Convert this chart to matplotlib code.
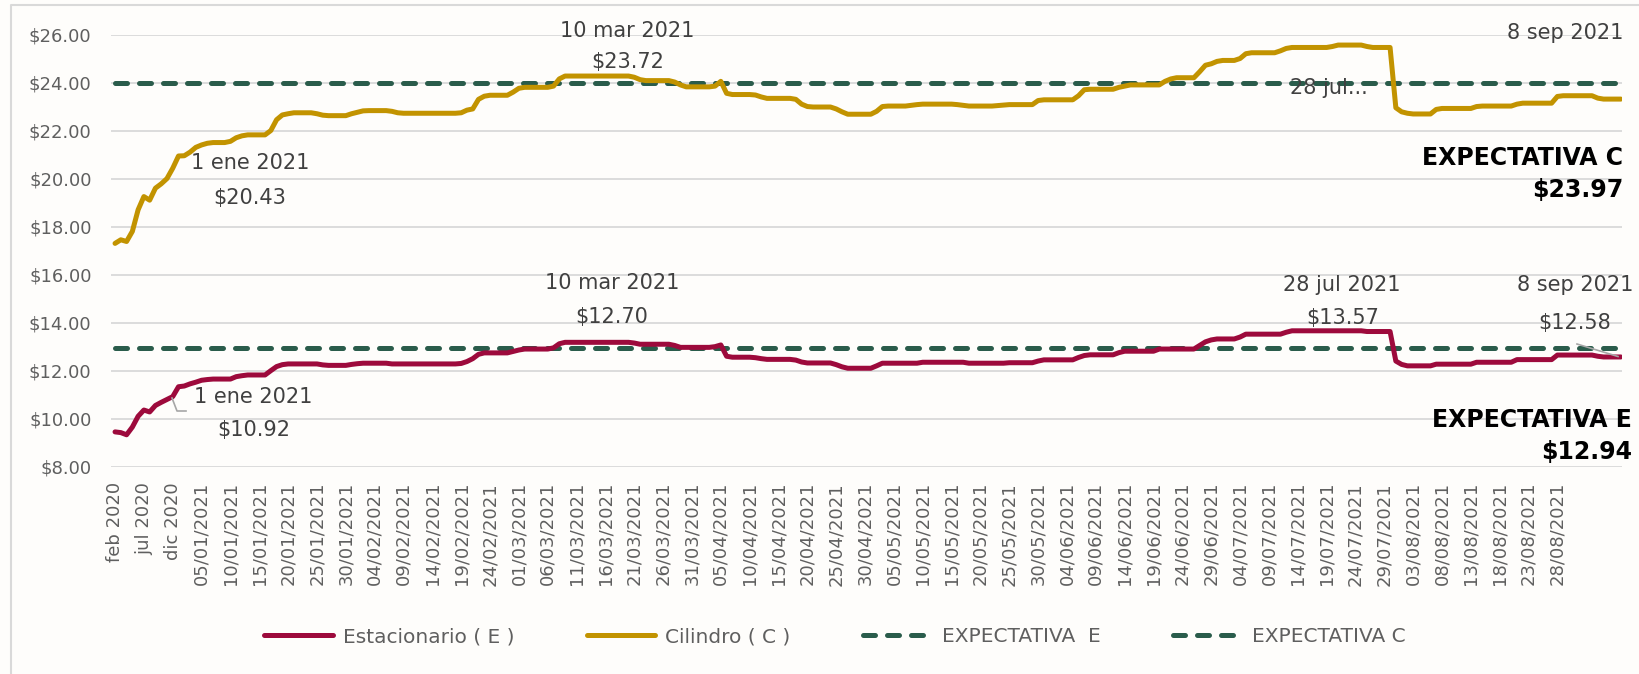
import matplotlib.pyplot as plt
import pandas as pd
from matplotlib.lines import Line2D

# categorias: meses de 2020 y luego dias de 2021
meses = ['feb 2020', 'mar 2020', 'abr 2020', 'may 2020', 'jun 2020', 'jul 2020',
         'ago 2020', 'sep 2020', 'oct 2020', 'nov 2020', 'dic 2020']
dias = pd.date_range('2021-01-01', '2021-09-08', freq='D').strftime('%d/%m/%Y').tolist()
categorias = meses + dias

cilindro = [
    17.30, 17.45, 17.38, 17.80, 18.70, 19.25, 19.10, 19.60, 19.78, 20.00, 20.43,
    20.94, 20.95, 21.10, 21.30, 21.40, 21.47, 21.50, 21.50, 21.50, 21.55,
    21.70, 21.78, 21.82, 21.82, 21.82, 21.82, 22.00, 22.45, 22.65, 22.70,
    22.74, 22.74, 22.74, 22.74, 22.70, 22.64, 22.62, 22.62, 22.62, 22.62,
    22.70, 22.76, 22.82, 22.83, 22.83, 22.83, 22.83, 22.80, 22.74, 22.72,
    22.72, 22.72, 22.72, 22.72, 22.72, 22.72, 22.72, 22.72, 22.72, 22.74,
    22.85, 22.90, 23.30, 23.43, 23.47, 23.47, 23.47, 23.47, 23.60, 23.76,
    23.80, 23.80, 23.80, 23.80, 23.80, 23.85, 24.15, 24.27, 24.27, 24.27,
    24.27, 24.27, 24.27, 24.27, 24.27, 24.27, 24.27, 24.27, 24.27, 24.22,
    24.12, 24.08, 24.08, 24.08, 24.08, 24.08, 24.02, 23.90, 23.82, 23.82,
    23.82, 23.82, 23.82, 23.85, 24.05, 23.55, 23.50, 23.50, 23.50, 23.50,
    23.48, 23.40, 23.34, 23.34, 23.34, 23.34, 23.34, 23.30, 23.10, 23.00,
    22.98, 22.98, 22.98, 22.98, 22.90, 22.78, 22.68, 22.68, 22.68, 22.68,
    22.68, 22.80, 23.00, 23.02, 23.02, 23.02, 23.02, 23.05, 23.08, 23.10,
    23.10, 23.10, 23.10, 23.10, 23.10, 23.08, 23.05, 23.02, 23.02, 23.02,
    23.02, 23.02, 23.04, 23.06, 23.08, 23.08, 23.08, 23.08, 23.08, 23.25,
    23.28, 23.28, 23.28, 23.28, 23.28, 23.28, 23.45, 23.70, 23.72, 23.72,
    23.72, 23.72, 23.72, 23.80, 23.85, 23.90, 23.90, 23.90, 23.90, 23.90,
    23.90, 24.05, 24.15, 24.20, 24.20, 24.20, 24.20, 24.45, 24.72, 24.78,
    24.88, 24.92, 24.92, 24.92, 25.00, 25.20, 25.24, 25.24, 25.24, 25.24,
    25.24, 25.32, 25.42, 25.46, 25.46, 25.46, 25.46, 25.46, 25.46, 25.46,
    25.50, 25.56, 25.56, 25.56, 25.56, 25.56, 25.50, 25.46, 25.46, 25.46,
    25.46, 22.95, 22.78, 22.72, 22.69, 22.69, 22.69, 22.69, 22.88, 22.92,
    22.92, 22.92, 22.92, 22.92, 22.92, 23.00, 23.02, 23.02, 23.02, 23.02,
    23.02, 23.02, 23.10, 23.14, 23.14, 23.14, 23.14, 23.14, 23.14, 23.42,
    23.45, 23.45, 23.45, 23.45, 23.45, 23.45, 23.35, 23.31, 23.31, 23.31, 23.31,
]

estacionario = [
    9.45, 9.42, 9.33, 9.65, 10.10, 10.36, 10.28, 10.55, 10.68, 10.80, 10.92,
    11.33, 11.36, 11.45, 11.52, 11.60, 11.63, 11.65, 11.65, 11.65, 11.65,
    11.75, 11.79, 11.82, 11.82, 11.82, 11.82, 12.00, 12.17, 12.25, 12.28,
    12.28, 12.28, 12.28, 12.28, 12.28, 12.24, 12.22, 12.22, 12.22, 12.22,
    12.26, 12.29, 12.31, 12.31, 12.31, 12.31, 12.31, 12.28, 12.28, 12.28,
    12.28, 12.28, 12.28, 12.28, 12.28, 12.28, 12.28, 12.28, 12.28, 12.30,
    12.38, 12.50, 12.68, 12.74, 12.74, 12.74, 12.74, 12.74, 12.80, 12.86,
    12.90, 12.90, 12.90, 12.90, 12.90, 12.95, 13.12, 13.18, 13.18, 13.18,
    13.18, 13.18, 13.18, 13.18, 13.18, 13.18, 13.18, 13.18, 13.18, 13.15,
    13.10, 13.10, 13.10, 13.10, 13.10, 13.10, 13.05, 12.97, 12.97, 12.97,
    12.97, 12.97, 12.97, 13.00, 13.07, 12.60, 12.56, 12.56, 12.56, 12.56,
    12.54, 12.50, 12.47, 12.47, 12.47, 12.47, 12.47, 12.44, 12.36, 12.32,
    12.32, 12.32, 12.32, 12.32, 12.25, 12.16, 12.10, 12.10, 12.10, 12.10,
    12.10, 12.20, 12.31, 12.31, 12.31, 12.31, 12.31, 12.31, 12.31, 12.35,
    12.35, 12.35, 12.35, 12.35, 12.35, 12.35, 12.35, 12.31, 12.31, 12.31,
    12.31, 12.31, 12.31, 12.31, 12.33, 12.33, 12.33, 12.33, 12.33, 12.40,
    12.45, 12.45, 12.45, 12.45, 12.45, 12.45, 12.55, 12.63, 12.66, 12.66,
    12.66, 12.66, 12.66, 12.75, 12.81, 12.81, 12.81, 12.81, 12.81, 12.81,
    12.90, 12.90, 12.90, 12.90, 12.90, 12.90, 12.90, 13.05, 13.20, 13.28,
    13.32, 13.32, 13.32, 13.32, 13.40, 13.52, 13.52, 13.52, 13.52, 13.52,
    13.52, 13.52, 13.60, 13.66, 13.66, 13.66, 13.66, 13.66, 13.66, 13.66,
    13.66, 13.66, 13.66, 13.66, 13.66, 13.66, 13.63, 13.63, 13.63, 13.63,
    13.63, 12.40, 12.26, 12.20, 12.20, 12.20, 12.20, 12.20, 12.27, 12.27,
    12.27, 12.27, 12.27, 12.27, 12.27, 12.35, 12.35, 12.35, 12.35, 12.35,
    12.35, 12.35, 12.46, 12.46, 12.46, 12.46, 12.46, 12.46, 12.46, 12.65,
    12.65, 12.65, 12.65, 12.65, 12.65, 12.65, 12.60, 12.57, 12.57, 12.57, 12.57,
]

expectativa_e = 12.94
expectativa_c = 23.97

assert len(cilindro) == len(categorias) == len(estacionario)

ROJO = '#9D0A3C'
ORO = '#C29300'
VERDE = '#2A5C4B'
GRIS = '#5F5F5F'
TXT = '#404040'

plt.rcParams['font.family'] = ['DejaVu Sans']

fig = plt.figure(figsize=(16.4, 6.74), dpi=100, facecolor='#FEFDFB')
W, H = 1640, 674
ax = fig.add_axes([111 / W, 1 - 466.7 / H, 1511 / W, 432.2 / H])
ax.set_facecolor('none')

x = list(range(len(categorias)))

l_e, = ax.plot(x, estacionario, color=ROJO, lw=3.6, solid_capstyle='round',
               solid_joinstyle='round', label='Estacionario ( E )', zorder=4)
l_c, = ax.plot(x, cilindro, color=ORO, lw=3.6, solid_capstyle='round',
               solid_joinstyle='round', label='Cilindro ( C )', zorder=4)
l_xe, = ax.plot(x, [expectativa_e] * len(x), color=VERDE, lw=3.6,
                dashes=(2.4, 2.4), dash_capstyle='round', label='EXPECTATIVA  E', zorder=3)
l_xc, = ax.plot(x, [expectativa_c] * len(x), color=VERDE, lw=3.6,
                dashes=(2.4, 2.4), dash_capstyle='round', label='EXPECTATIVA C', zorder=3)

ax.set_xlim(-0.7, 261.2)
ax.set_ylim(8, 26)
ax.set_yticks(range(8, 27, 2))
ax.set_yticklabels([f'${v:.2f}' for v in range(8, 27, 2)])
ax.grid(axis='y', color='#D9D9D9', lw=1.3, zorder=0)
ax.set_axisbelow(True)
for s in ax.spines.values():
    s.set_visible(False)

ticks = list(range(0, 251, 5))
ax.set_xticks(ticks)
ax.set_xticklabels([categorias[i] for i in ticks], rotation=90)
ax.tick_params(axis='x', length=0, pad=11, labelsize=13, labelcolor=GRIS)
ax.tick_params(axis='y', length=0, pad=14, labelsize=13, labelcolor=GRIS)

# etiquetas de datos
def etiqueta(xd, yd, txt, ha='center', **kw):
    ax.text(xd, yd, txt, ha=ha, va='center', fontsize=15, color=TXT, zorder=6, **kw)

# Cilindro
etiqueta(23.4, 20.65, '1 ene 2021')
etiqueta(23.4, 19.19, '$20.43')
etiqueta(88.8, 26.16, '10 mar 2021')
etiqueta(88.8, 24.87, '$23.72')
etiqueta(210.4, 23.77, '28 jul...')
etiqueta(261.5, 26.06, '8 sep 2021', ha='right')
# Estacionario
etiqueta(24.0, 10.90, '1 ene 2021')
etiqueta(24.0, 9.53, '$10.92')
etiqueta(86.1, 15.65, '10 mar 2021')
etiqueta(86.1, 14.25, '$12.70')
etiqueta(212.7, 15.57, '28 jul 2021')
etiqueta(212.8, 14.18, '$13.57')
etiqueta(263.2, 15.57, '8 sep 2021', ha='right')
etiqueta(253.0, 13.97, '$12.58')

# lineas guia de las etiquetas
fig.add_artist(Line2D([172 / W, 177 / W, 186 / W], [1 - 398 / H, 1 - 411 / H, 1 - 411 / H],
                      color='#A6A6A6', lw=1.2))
fig.add_artist(Line2D([1577 / W, 1618 / W], [1 - 344 / H, 1 - 356.5 / H],
                      color='#A6A6A6', lw=1.2, zorder=7))

# expectativas
ax.text(261.4, 20.85, 'EXPECTATIVA C', ha='right', va='center', fontsize=17,
        fontweight='bold', color='black')
ax.text(261.4, 19.52, f'${expectativa_c:.2f}', ha='right', va='center', fontsize=17,
        fontweight='bold', color='black')
ax.text(262.9, 9.95, 'EXPECTATIVA E', ha='right', va='center', fontsize=17,
        fontweight='bold', color='black')
ax.text(262.9, 8.63, f'${expectativa_e:.2f}', ha='right', va='center', fontsize=17,
        fontweight='bold', color='black')

# marco del grafico
fig.add_artist(Line2D([11 / W, 11 / W, 1], [0, 1 - 5 / H, 1 - 5 / H], color='#D9D9D9', lw=1.5))

leg = fig.legend(handles=[l_e, l_c, l_xe, l_xc], loc='center', bbox_to_anchor=(0.509, 0.055),
                 ncol=4, frameon=False, fontsize=14.5, handlelength=3.4, handletextpad=0.5,
                 columnspacing=3.6)
for t in leg.get_texts():
    t.set_color(GRIS)

fig.savefig('out.png', dpi=100, facecolor=fig.get_facecolor())
